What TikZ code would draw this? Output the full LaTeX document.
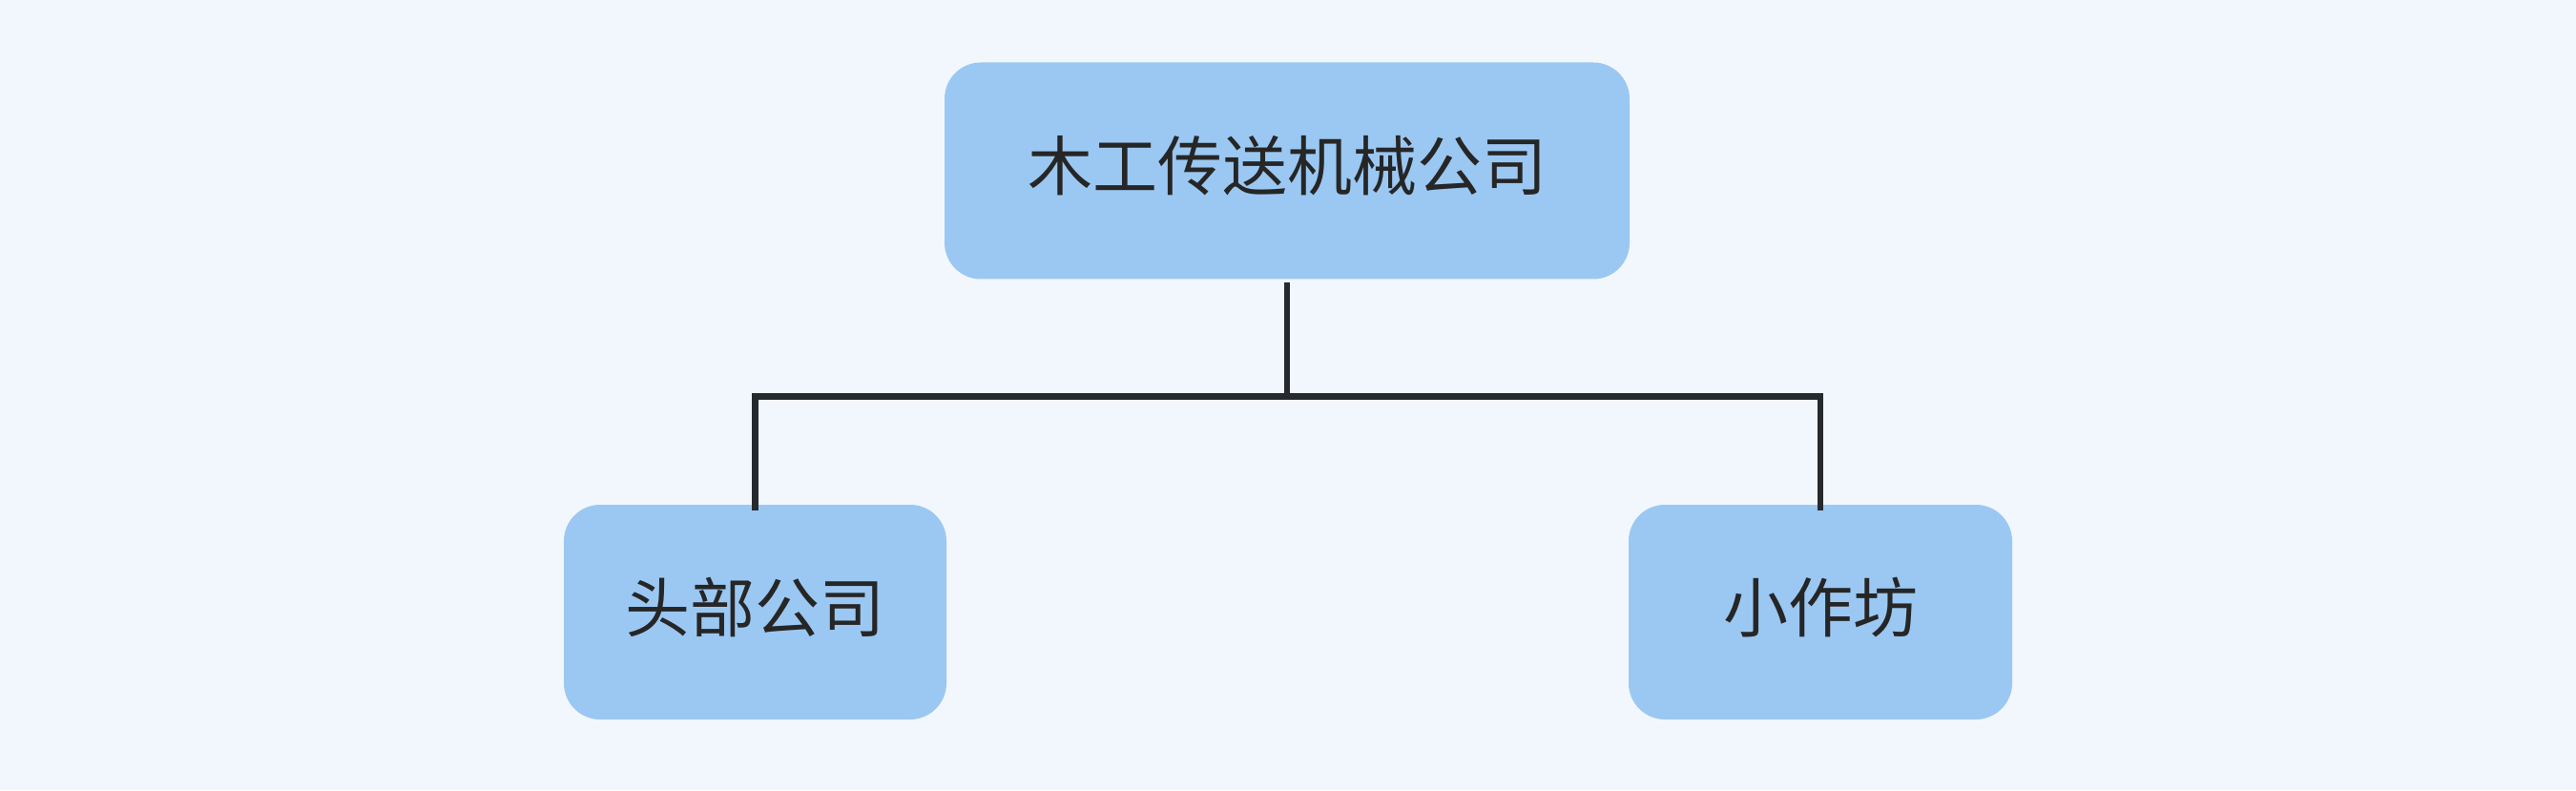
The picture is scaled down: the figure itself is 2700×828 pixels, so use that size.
\documentclass[tikz,border=0pt]{standalone}
\usepackage{fontspec}
\newfontfamily\cjk{Noto Sans CJK SC}
\definecolor{bgc}{HTML}{F2F7FE}
\definecolor{boxc}{HTML}{9BC8F2}
\definecolor{txtc}{HTML}{262626}
\definecolor{linec}{HTML}{262A2E}
\newcommand\liftup[1]{\raisebox{5pt}[\height][\depth]{#1}}
\tikzset{
  orgbox/.style={fill=boxc, draw=none, rounded corners=38pt, inner sep=0pt,
    font=\cjk\fontsize{68pt}{80pt}\selectfont, text=txtc, align=center},
  conn/.style={draw=linec, line width=6.5pt, line cap=butt, line join=miter}
}
\begin{document}
\begin{tikzpicture}[x=1pt,y=1pt]
\fill[bgc] (0,0) rectangle (2700,828);
\useasboundingbox (0,0) rectangle (2700,828);
\node[orgbox, minimum width=718pt, minimum height=227pt] (top) at (1349,649) {\liftup{木工传送机械公司}};
\node[orgbox, minimum width=401pt, minimum height=225pt] (left) at (791.5,186.5) {\liftup{头部公司}};
\node[orgbox, minimum width=402pt, minimum height=225pt] (right) at (1908,186.5) {\liftup{小作坊}};
\coordinate (j) at (0,412.5);
\draw[conn] ([yshift=-3pt]top.south) -- (top.south |- j) -| ([yshift=-6pt]left.north);
\draw[conn] ([yshift=-3pt]top.south) -- (top.south |- j) -| ([yshift=-6pt]right.north);
\end{tikzpicture}
\end{document}
